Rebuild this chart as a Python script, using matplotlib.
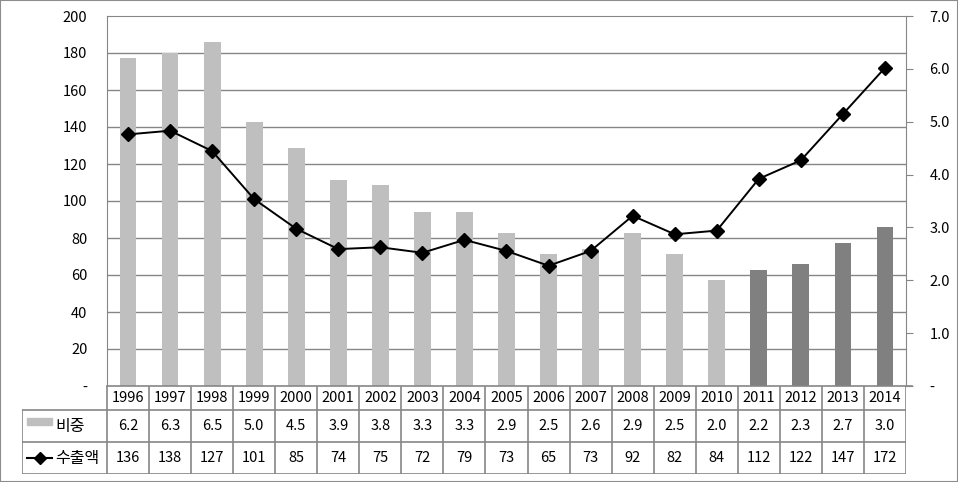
import numpy as np
import matplotlib.pyplot as plt
from matplotlib.lines import Line2D
from matplotlib.patches import Rectangle

plt.rcParams['font.family'] = ['Noto Sans CJK KR', 'DejaVu Sans']

years = ['1996', '1997', '1998', '1999', '2000', '2001', '2002', '2003', '2004', '2005',
         '2006', '2007', '2008', '2009', '2010', '2011', '2012', '2013', '2014']
share = [6.2, 6.3, 6.5, 5.0, 4.5, 3.9, 3.8, 3.3, 3.3, 2.9, 2.5, 2.6, 2.9, 2.5, 2.0, 2.2, 2.3, 2.7, 3.0]
exports = [136, 138, 127, 101, 85, 74, 75, 72, 79, 73, 65, 73, 92, 82, 84, 112, 122, 147, 172]
share_label = '비중'
export_label = '수출액'

W, H = 958, 482
grid_c = '#868686'
light = '#bfbfbf'
dark = '#808080'
fs = 10.5

fig = plt.figure(figsize=(W / 100, H / 100), dpi=100)
fig.patches.append(Rectangle((0, 0), 1, 1, transform=fig.transFigure, fill=False,
                             edgecolor='#8c8c8c', lw=1.5))

x0, x1, ytop, ybot = 107, 906, 16, 386
ax = fig.add_axes([x0 / W, (H - ybot) / H, (x1 - x0) / W, (ybot - ytop) / H])
ax2 = ax.twinx()
ax.set_zorder(ax2.get_zorder() + 1)
ax.patch.set_visible(False)

n = len(years)
xs = np.arange(n)

# gridlines (left axis every 20) drawn behind the bars
for v in range(20, 200, 20):
    ax2.axhline(v * 7 / 200, color=grid_c, lw=1, zorder=0)

bar_colors = [light if int(y) <= 2010 else dark for y in years]
ax2.bar(xs, share, width=0.4, color=bar_colors, zorder=2)
ax2.set_ylim(0, 7)
ax2.set_yticks(np.arange(0, 8, 1.0))
ax2.set_yticklabels(['-'] + ['%.1f' % v for v in np.arange(1, 8, 1.0)], fontsize=fs)
ax2.tick_params(axis='y', length=5, color=grid_c, pad=12)

ax.plot(xs, exports, color='black', lw=1.4, marker='D', ms=7, mfc='black', mec='black')
ax.set_ylim(0, 200)
ax.set_xlim(-0.5, n - 0.5)
ax.set_yticks(np.arange(0, 201, 20))
ax.set_yticklabels(['-'] + [str(v) for v in range(20, 201, 20)], fontsize=fs)
ax.tick_params(axis='y', length=0, pad=14)
ax.set_xticks([])
for a in (ax, ax2):
    a.spines['top'].set_visible(False)
    a.spines['bottom'].set_visible(False)
    for s in ('left', 'right', 'top'):
        a.spines[s].set_color(grid_c)
ax.spines['right'].set_visible(False)
ax2.spines['left'].set_visible(False)
ax2.spines['top'].set_visible(True)

# data table below the plot
tx0, ty0, ty1 = 22, 386, 474
tab = fig.add_axes([tx0 / W, (H - ty1) / H, (x1 - tx0) / W, (ty1 - ty0) / H])
cw = (x1 - x0) / n
hx = -0.5 - (x0 - tx0) / cw
tab.set_xlim(hx, n - 0.5)
tab.set_ylim(ty1 - ty0, 0)
tab.axis('off')
rows = [0, 24, 56, 88]
lk = dict(color=grid_c, lw=1.2)
tab.plot([-0.5, n - 0.5 + 6 / cw], [rows[0]] * 2, clip_on=False, **lk)
for r in rows[1:]:
    tab.plot([hx, n - 0.5], [r, r], **lk)
for i in range(n + 1):
    tab.plot([i - 0.5, i - 0.5], [rows[0], rows[3]], **lk)
tab.plot([hx, hx], [rows[1], rows[3]], **lk)
for i in range(n):
    tab.text(i, 12, years[i], ha='center', va='center', fontsize=fs)
    tab.text(i, 40, '%.1f' % share[i], ha='center', va='center', fontsize=fs)
    tab.text(i, 72, str(exports[i]), ha='center', va='center', fontsize=fs)
kx = hx + 5 / cw
tab.add_patch(Rectangle((kx, 32), 25 / cw, 7, color=light))
tab.text(kx + 28 / cw, 40, share_label, ha='left', va='center', fontsize=fs + 1)
tab.add_line(Line2D([kx, kx + 12.5 / cw, kx + 25 / cw], [72, 72, 72], color='black', lw=1.5,
                    marker='D', ms=6, markevery=[1], mfc='black'))
tab.text(kx + 28 / cw, 72, export_label, ha='left', va='center', fontsize=fs + 1)

fig.savefig('out.png', dpi=100)
